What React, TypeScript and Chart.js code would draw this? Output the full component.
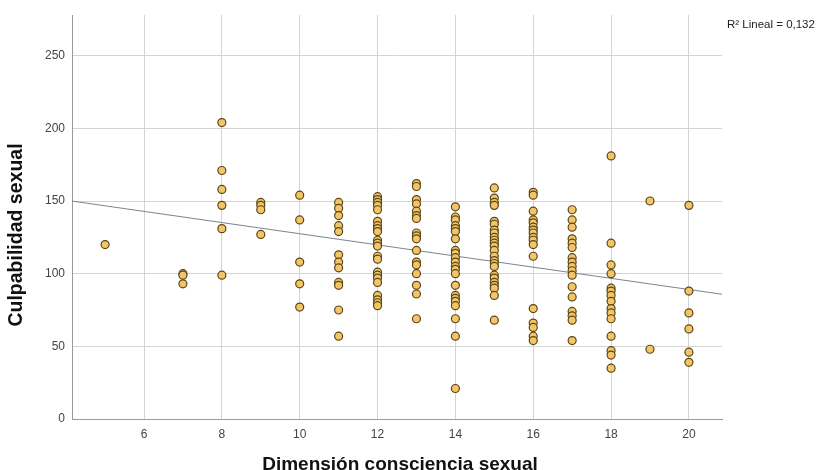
import React, { useEffect, useRef } from "react";
import { Chart, registerables } from "chart.js";

Chart.register(...registerables);

// Data: x value (Dimensión consciencia sexual) and the y values (Culpabilidad sexual) seen at it
const groupX = [5, 7, 8, 9, 10, 11, 12, 13, 14, 15, 16, 17, 18, 19, 20];
const groupY = [
  [120],
  [100, 99, 93],
  [204, 171, 158, 147, 131, 99],
  [149, 147, 144, 127],
  [154, 137, 108, 93, 77],
  [149, 145, 140, 133, 129, 113, 108, 104, 94, 92, 75, 57],
  [153, 151, 149, 147, 144, 136, 133, 131, 129, 123, 121, 119, 112, 110, 101, 99, 97, 94, 85, 82, 80, 78],
  [162, 160, 151, 148, 143, 140, 138, 128, 126, 124, 116, 108, 106, 100, 92, 86, 69],
  [146, 139, 137, 133, 131, 129, 124, 116, 114, 111, 108, 105, 103, 100, 92, 85, 83, 81, 78, 69, 57, 21],
  [159, 152, 149, 147, 136, 134, 130, 128, 125, 123, 121, 119, 116, 112, 109, 107, 105, 99, 97, 94, 92, 90, 85, 68],
  [156, 154, 143, 137, 135, 132, 130, 128, 125, 123, 120, 112, 76, 66, 63, 57, 54],
  [144, 137, 132, 124, 121, 118, 111, 108, 105, 102, 99, 91, 84, 74, 71, 68, 54],
  [181, 121, 106, 100, 90, 88, 85, 81, 76, 73, 69, 57, 47, 44, 35],
  [150, 48],
  [147, 88, 73, 62, 46, 39],
];

const xTicks = [6, 8, 10, 12, 14, 16, 18, 20];
const yTicks = [0, 50, 100, 150, 200, 250];
const xRange = [4.15, 20.85];
const yRange = [0, 278];

// Linear fit
const fitIntercept = 165.9;
const fitSlope = -3.84;
const r2Label = "R² Lineal = 0,132";

const xTitle = "Dimensión consciencia sexual";
const yTitle = "Culpabilidad sexual";

const FONT = "'Liberation Sans', Arial, sans-serif";

export default function App() {
  const ref = useRef<HTMLCanvasElement | null>(null);

  useEffect(() => {
    const canvas = ref.current;
    if (!canvas) return;

    const points: { x: number; y: number }[] = [];
    groupX.forEach((x, i) => {
      groupY[i].forEach((y) => points.push({ x, y }));
    });

    const fitLine = xRange.map((x) => ({ x, y: fitIntercept + fitSlope * x }));

    const titlesPlugin = {
      id: "titles",
      afterDraw(chart: any) {
        const ctx = chart.ctx;
        ctx.save();
        ctx.fillStyle = "#111";
        ctx.font = `bold 19px ${FONT}`;
        ctx.textAlign = "center";
        ctx.textBaseline = "middle";
        ctx.fillText(xTitle, 400, 465);
        ctx.font = `bold 19.5px ${FONT}`;
        ctx.translate(17, 235);
        ctx.rotate(-Math.PI / 2);
        ctx.fillText(yTitle, 0, 0);
        ctx.restore();

        ctx.save();
        ctx.fillStyle = "#222";
        ctx.font = `11.5px ${FONT}`;
        ctx.textAlign = "left";
        ctx.textBaseline = "middle";
        ctx.fillText(r2Label, 727, 25);
        ctx.restore();
      },
    };

    const chart = new Chart(canvas, {
      type: "scatter",
      data: {
        datasets: [
          {
            type: "line",
            data: fitLine,
            borderColor: "#7c8392",
            borderWidth: 1,
            pointRadius: 0,
            fill: false,
            order: 2,
          } as any,
          {
            type: "scatter",
            data: points,
            backgroundColor: "#f4c567",
            borderColor: "#5a461a",
            borderWidth: 1.2,
            pointRadius: 4,
            order: 1,
          },
        ],
      },
      options: {
        responsive: false,
        animation: false,
        layout: { padding: { top: 15, right: 98, left: 0, bottom: 0 } },
        plugins: {
          legend: { display: false },
          tooltip: { enabled: false },
        },
        scales: {
          x: {
            type: "linear",
            min: xRange[0],
            max: xRange[1],
            afterFit(scale: any) {
              scale.height = 51;
            },
            afterBuildTicks(scale: any) {
              scale.ticks = xTicks.map((v) => ({ value: v }));
            },
            grid: { color: "#d4d4d4", lineWidth: 1, drawTicks: false },
            border: { color: "#9a9a9a", width: 1 },
            ticks: {
              padding: 8,
              color: "#444",
              font: { family: FONT, size: 12 },
              maxRotation: 0,
            },
          },
          y: {
            type: "linear",
            min: yRange[0],
            max: yRange[1],
            afterFit(scale: any) {
              scale.width = 72;
            },
            afterBuildTicks(scale: any) {
              scale.ticks = yTicks.map((v) => ({ value: v }));
            },
            grid: { color: "#d4d4d4", lineWidth: 1, drawTicks: false },
            border: { color: "#9a9a9a", width: 1 },
            ticks: {
              padding: 7,
              color: "#444",
              font: { family: FONT, size: 12 },
            },
          },
        },
      },
      plugins: [titlesPlugin],
    });

    return () => chart.destroy();
  }, []);

  return (
    <div style={{ position: "fixed", left: 0, top: 0, width: 820, height: 470, background: "#fff" }}>
      <canvas ref={ref} width={820} height={470} style={{ display: "block", width: 820, height: 470 }} />
    </div>
  );
}
